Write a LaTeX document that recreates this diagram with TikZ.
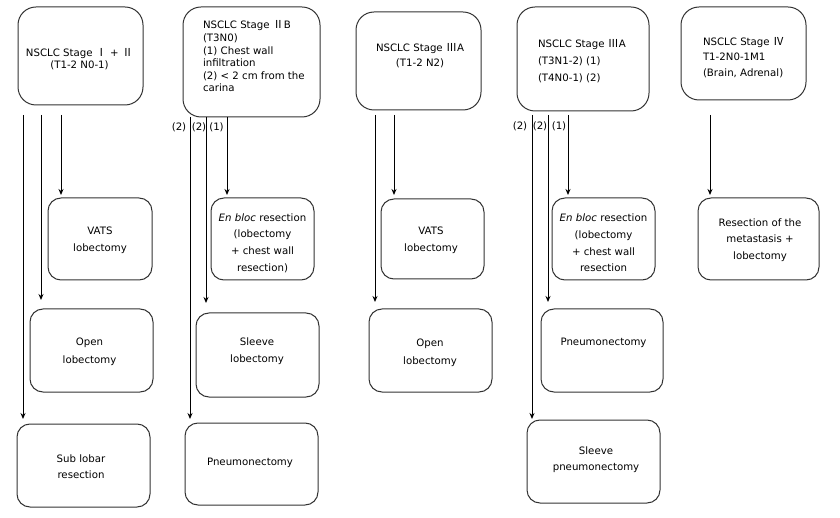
\documentclass[tikz,border=0pt]{standalone}
\usepackage{fontspec}
\setmainfont{DejaVu Sans}
\newfontfamily\cjk{Noto Sans CJK SC}
\usetikzlibrary{arrows.meta}
\newcommand{\rn}[1]{{\cjk\fontsize{11}{11}\selectfont #1}}
\tikzset{
  box/.style={draw=black!80, line width=1pt, rounded corners=13pt, outer sep=0pt, inner sep=0pt},
  tbox/.style={box, rounded corners=18pt},
  txt/.style={inner sep=0pt, outer sep=0pt, font=\fontsize{10.2}{#1}\selectfont},
  txt/.default=16.7,
  lbl/.style={inner sep=0pt, font=\fontsize{10.2}{12}\selectfont},
  arr/.style={line width=1pt, -{Stealth[length=6pt,width=5pt]}},
  ln/.style={line width=1pt}
}
\begin{document}
\begin{tikzpicture}[x=1pt,y=-1pt]
\useasboundingbox (0,0) rectangle (840,518);
% top boxes
\node[tbox, minimum width=125pt, minimum height=98pt]  (A) at (80.5,56) {};
\node[tbox, minimum width=137pt, minimum height=110pt] (B) at (251.5,62) {};
\node[tbox, minimum width=125pt, minimum height=98pt]  (C) at (418.5,61) {};
\node[tbox, minimum width=132pt, minimum height=104pt] (D) at (583,59) {};
\node[tbox, minimum width=125pt, minimum height=93pt]  (E) at (743.5,53.5) {};
\node[txt=12, align=center] (At) at (79.5,59) {NSCLC Stage \rn{Ⅰ} + \rn{Ⅱ}\\(T1-2 N0-1)};
\node[txt=12.6, align=left, anchor=west] (Bt) at (203,56.5) {NSCLC Stage \rn{Ⅱ}B\\(T3N0)\\(1) Chest wall\\infiltration\\(2) < 2 cm from the\\carina};
\node[txt=15, align=center] (Ct) at (420,55.5) {NSCLC Stage \rn{Ⅲ}A\\(T1-2 N2)};
\node[txt=17, align=left, anchor=west] (Dt) at (538,61) {NSCLC Stage \rn{Ⅲ}A\\(T3N1-2) (1)\\(T4N0-1) (2)};
\node[txt=15.5, align=left, anchor=west] (Et) at (703,57.5) {NSCLC Stage \rn{Ⅳ}\\T1-2N0-1M1\\(Brain, Adrenal)};
% middle row 1
\node[box, minimum width=104pt, minimum height=82pt] (VA) at (100,239) {};
\node[box, minimum width=103pt, minimum height=82pt] (EB1) at (262.5,239) {};
\node[box, minimum width=103pt, minimum height=80pt] (VC) at (432.5,239) {};
\node[box, minimum width=103pt, minimum height=82pt] (EB2) at (603.5,239) {};
\node[box, minimum width=121pt, minimum height=82pt] (RM) at (758.5,239) {};
\node[txt, align=center] (VAt) at (100,240) {VATS\\lobectomy};
\node[txt, align=center] (EB1t) at (262.5,243) {\textit{En bloc} resection\\(lobectomy\\+ chest wall\\resection)};
\node[txt, align=center] (VCt) at (431,240.5) {VATS\\lobectomy};
\node[txt, align=center] (EB2t) at (603.5,243) {\textit{En bloc} resection\\(lobectomy\\+ chest wall\\resection};
\node[txt, align=center] (RMt) at (760,240) {Resection of the\\metastasis +\\lobectomy};
% middle row 2
\node[box, minimum width=123pt, minimum height=83pt] (OA) at (91.5,350.5) {};
\node[box, minimum width=123pt, minimum height=84pt] (SL) at (257.5,355) {};
\node[box, minimum width=123pt, minimum height=83pt] (OC) at (430.5,350.5) {};
\node[box, minimum width=122pt, minimum height=83pt] (PD) at (602,350.5) {};
\node[txt=18, align=center] (OAt) at (89.5,352) {Open\\lobectomy};
\node[txt=17, align=center] (SLt) at (257,351.5) {Sleeve\\lobectomy};
\node[txt=18, align=center] (OCt) at (430,353) {Open\\lobectomy};
\node[txt, align=center] (PDt) at (603.5,343) {Pneumonectomy};
% bottom row
\node[box, minimum width=133pt, minimum height=83pt] (SLR) at (83.5,465.5) {};
\node[box, minimum width=133pt, minimum height=82pt] (PB) at (251.5,464) {};
\node[box, minimum width=133pt, minimum height=83pt] (SP) at (593.5,461.5) {};
\node[txt=16, align=center] (SLRt) at (81,467) {Sub lobar\\resection};
\node[txt, align=center] (PBt) at (250,463) {Pneumonectomy};
\node[txt=16, align=center] (SPt) at (596,460) {Sleeve\\pneumonectomy};
% labels
\node[lbl] (lb3) at (179,127) {(2)};
\node[lbl] (lb2) at (199,127) {(2)};
\node[lbl] (lb1) at (216.5,127) {(1)};
\node[lbl] (ld3) at (520,126) {(2)};
\node[lbl] (ld2) at (540,126) {(2)};
\node[lbl] (ld1) at (559,126) {(1)};
% connectors
\draw[arr] ([xshift=43pt,yshift=-10pt]A.south west) -- ([xshift=13pt,yshift=3pt]VA.north west);
\draw[arr] ([xshift=23pt,yshift=-10pt]A.south west) -- ([xshift=11pt,yshift=9pt]OA.north west);
\draw[arr] ([xshift=5pt,yshift=-10pt]A.south west) -- ([xshift=6pt,yshift=5pt]SLR.north west);
\draw[arr] ([xshift=44pt]B.south west) -- ([xshift=16pt,yshift=3pt]EB1.north west);
\draw[arr] ([xshift=23pt]B.south west) -- ([xshift=10pt,yshift=10pt]SL.north west);
\draw[arr] ([xshift=7pt]B.south west) -- ([xshift=5pt,yshift=4pt]PB.north west);
\draw[arr] ([xshift=38pt,yshift=-5pt]C.south west) -- ([xshift=13pt,yshift=4pt]VC.north west);
\draw[arr] ([xshift=19pt,yshift=-5pt]C.south west) -- ([xshift=6pt,yshift=7pt]OC.north west);
\draw[arr] ([xshift=51pt,yshift=-4pt]D.south west) -- ([xshift=16pt,yshift=3pt]EB2.north west);
\draw[arr] ([xshift=31pt,yshift=-4pt]D.south west) -- ([xshift=7pt,yshift=7pt]PD.north west);
\draw[arr] ([xshift=15pt,yshift=-4pt]D.south west) -- ([xshift=5pt,yshift=1pt]SP.north west);
\draw[arr] ([xshift=29pt,yshift=-15pt]E.south west) -- ([xshift=12pt,yshift=3pt]RM.north west);
\end{tikzpicture}
\end{document}
